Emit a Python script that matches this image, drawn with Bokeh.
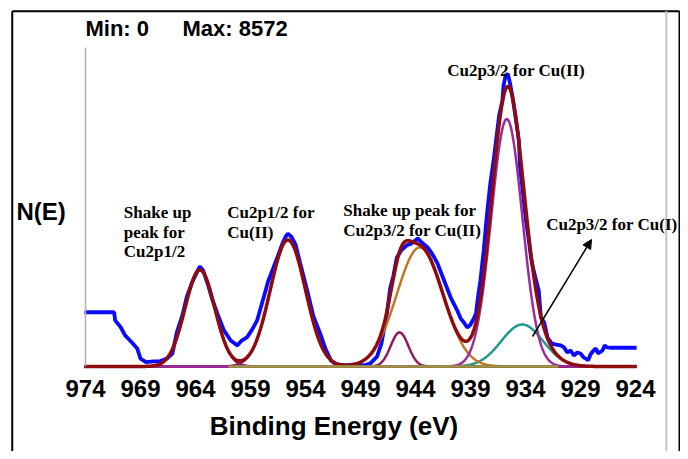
import numpy as np
from bokeh.plotting import figure
from bokeh.models import Range1d, LinearAxis, FixedTicker, Label, Arrow, NormalHead
from bokeh.embed import file_html
from bokeh.resources import INLINE

# ---------------- data ----------------
energy = [974.1, 971.4, 971.3, 970.8, 970.4, 969.8, 969.3, 969.0, 968.5, 967.8,
          967.2, 966.6, 966.1, 965.7, 965.2, 964.8, 964.3, 963.8, 963.6, 963.3,
          962.9, 962.5, 962.0, 961.4, 960.8, 960.2, 959.8, 959.3, 958.8, 958.4,
          957.8, 957.4, 956.9, 956.5, 956.1, 955.8, 955.6, 955.3, 954.9, 954.5,
          953.8, 953.3, 952.6, 952.2, 951.7, 951.2, 950.4, 949.5, 948.7, 948.1,
          947.5, 947.1, 946.8, 946.6, 946.3, 946.0, 945.7, 945.3, 944.8, 944.4,
          943.8, 943.5, 942.9, 942.5, 942.0, 941.4, 940.8, 940.2, 939.9, 939.6,
          939.3, 939.0, 938.7, 938.5, 938.3, 938.1, 937.8, 937.5, 937.2, 936.9,
          936.6, 936.4, 936.1, 936.0, 935.8, 935.6, 935.4, 935.2, 934.9, 934.6,
          934.5, 934.2, 934.0, 933.7, 933.5, 933.3, 933.1, 932.8, 932.6, 932.3,
          932.0, 931.6, 931.2, 930.8, 930.5, 930.2, 929.9, 929.6, 929.3, 929.0,
          928.7, 928.5, 928.3, 928.1, 927.8, 927.6, 927.4, 927.0, 926.8, 926.6,
          926.3, 923.9]
counts = [1590, 1590, 1350, 1150, 910, 710, 530, 230, 130, 150,
          160, 230, 380, 1000, 1490, 2030, 2470, 2810, 2930, 2810,
          2430, 1990, 1540, 1050, 760, 620, 760, 860, 1110, 1350,
          2030, 2490, 2910, 3250, 3600, 3810, 3890, 3810, 3570, 3050,
          2170, 1490, 910, 530, 180, 60, 30, 60, 30, 90,
          290, 670, 1200, 1550, 2290, 2670, 3190, 3400, 3550, 3600,
          3750, 3660, 3490, 3310, 3020, 2520, 2020, 1640, 1410, 1290,
          1140, 1230, 1410, 1550, 2080, 2520, 3400, 4480, 5360, 6040,
          6830, 7350, 7790, 8230, 8530, 8572, 8290, 7940, 7300, 6620,
          5830, 5010, 4370, 3690, 3190, 2870, 2610, 2230, 1440, 1290,
          850, 670, 640, 620, 560, 410, 470, 320, 410, 380,
          260, 230, 180, 350, 470, 530, 380, 470, 620, 560,
          550, 550]

# fitted peak components (centre eV, height counts, sigma eV), in drawing order
peak_names = ["Cu2p3/2 Cu(I)", "Shake up Cu2p3/2 Cu(II)", "Shake up Cu2p1/2",
              "Cu2p1/2 Cu(II)", "Cu2p3/2 satellite", "Cu2p3/2 Cu(II)"]
peak_centers = [934.3, 943.6, 963.6, 955.6, 945.45, 935.7]
peak_heights = [1230, 3490, 2830, 3710, 1000, 7250]
peak_sigmas = [1.9, 2.1, 1.35, 1.6, 0.8, 1.41]

fit_start, fit_end = 974.1, 923.9
background_energy = [961.0, 931.0]
background_counts = [0, 0]

x_ticks = [974, 969, 964, 959, 954, 949, 944, 939, 934, 929, 924]
x_tick_labels = ["974", "969", "964", "959", "954", "949", "944", "939", "934", "929", "924"]
min_count = 0
max_count = 8572

# ---------------- styles ----------------
peak_colors = ["#1f9a8f", "#c07828", "#8b1c62", "#8b1c62", "#8b1c62", "#9a2c9c"]
BLUE = "#0a0aff"
ENVELOPE = "#8e0c0c"
OLIVE = "#9c9c3c"
SERIF = "Liberation Serif"
SANS = "Liberation Sans"

p = figure(width=680, height=451,
           x_range=Range1d(981.727, 919.909), y_range=Range1d(-2490.5, 10723.8),
           output_backend="svg", toolbar_location=None,
           x_axis_location=None, y_axis_location=None,
           min_border=0, outline_line_color=None,
           background_fill_color="white", border_fill_color="white")
p.grid.grid_line_color = None

# frame lines of the figure panel
p.segment(x0=[980.66, 980.66, 920.0], y0=[-2800, 10410, -2800],
          x1=[980.66, 920.0, 920.0], y1=[10410, 10410, 10410],
          line_color="black", line_width=2)
p.segment(x0=[921.2], y0=[10410], x1=[921.2], y1=[-2610],
          line_color="#c4c4c4", line_width=2)

# y axis (grey line only)
yaxis = LinearAxis(fixed_location=974, bounds=(0, 9347), ticker=FixedTicker(ticks=[]),
                   axis_line_color="#b0b0b0", axis_line_width=1.5,
                   major_tick_line_color=None, minor_tick_line_color=None,
                   major_label_text_font_size="0px")
p.add_layout(yaxis, "left")

# x axis (labels only)
xaxis = LinearAxis(fixed_location=0, ticker=FixedTicker(ticks=x_ticks),
                   major_label_overrides={t: l for t, l in zip(x_ticks, x_tick_labels)},
                   axis_line_color=None, major_tick_line_color=None,
                   minor_tick_line_color=None, major_tick_out=0,
                   major_label_standoff=13,
                   major_label_text_font=SANS, major_label_text_font_style="bold",
                   major_label_text_font_size="24px", major_label_text_color="black")
p.add_layout(xaxis, "below")

# experimental spectrum
p.line(energy, counts, line_color=BLUE, line_width=3.8)

# fitted components and envelope
grid = np.linspace(fit_start, fit_end, 1201)
envelope = np.zeros_like(grid)
for c, h, s, col in zip(peak_centers, peak_heights, peak_sigmas, peak_colors):
    comp = h * np.exp(-0.5 * ((grid - c) / s) ** 2)
    envelope += comp
    p.line(grid, comp, line_color=col, line_width=2.5)
p.line(grid, envelope, line_color=ENVELOPE, line_width=3.5)
p.line(background_energy, background_counts, line_color=OLIVE, line_width=2.5)

# texts
p.add_layout(Label(x=974.0, y=9903, text=f"Min: {min_count}", text_font=SANS,
                   text_font_style="bold", text_font_size="22px", text_baseline="middle",
                   text_color="black"))
p.add_layout(Label(x=965.18, y=9903, text=f"Max: {max_count}", text_font=SANS,
                   text_font_style="bold", text_font_size="22px", text_baseline="middle",
                   text_color="black"))
p.add_layout(Label(x=980.27, y=4542, text="N(E)", text_font=SANS,
                   text_font_style="bold", text_font_size="24px", text_baseline="middle",
                   text_color="black"))
p.add_layout(Label(x=951.41, y=-1729, text="Binding Energy (eV)", text_font=SANS,
                   text_font_style="bold", text_font_size="26px", text_baseline="middle",
                   text_align="center", text_color="black"))

notes = [
    (970.52, 4521, "Shake up"), (970.52, 3935, "peak for"), (970.52, 3378, "Cu2p1/2"),
    (961.12, 4521, "Cu2p1/2 for"), (961.12, 3935, "Cu(II)"),
    (950.57, 4571, "Shake up peak for"), (950.57, 3985, "Cu2p3/2 for Cu(II)"),
    (941.12, 8673, "Cu2p3/2 for Cu(II)"),
    (932.12, 4161, "Cu2p3/2 for Cu(I)"),
]
for x, y, t in notes:
    p.add_layout(Label(x=x, y=y, text=t, text_font=SERIF, text_font_style="bold",
                       text_font_size="17px", text_baseline="middle", text_color="black"))

p.add_layout(Arrow(end=NormalHead(size=9, fill_color="black", line_color="black"),
                   x_start=933.36, y_start=879, x_end=928.0, y_end=3721,
                   line_color="black", line_width=1.5))

open("out.html", "w").write(file_html(p, INLINE))
